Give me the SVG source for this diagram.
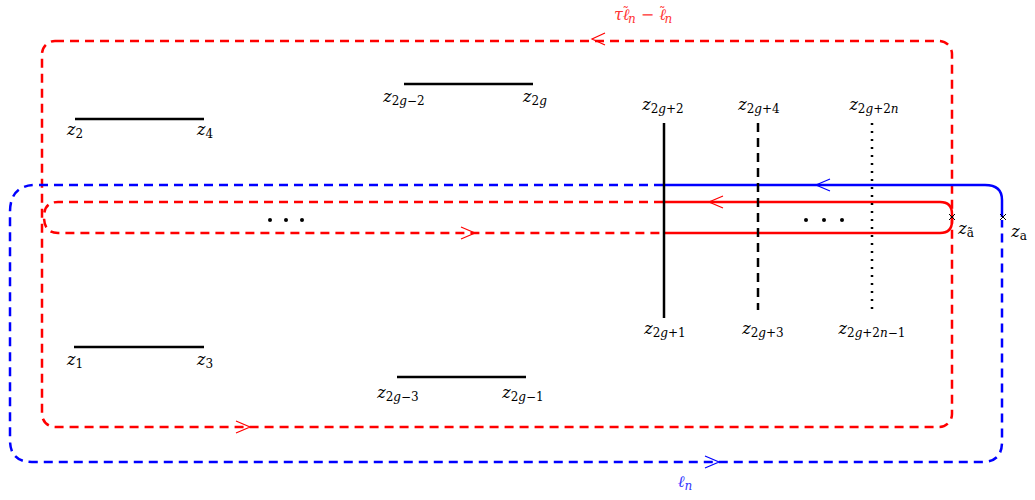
<svg xmlns="http://www.w3.org/2000/svg" width="1035" height="500" viewBox="0 0 1035 500">
<style>
.lbl{font-family:"DejaVu Serif","Liberation Serif",serif;font-size:16px;font-style:italic;fill:#000;text-anchor:middle}
.sub{font-size:12px;font-style:normal}
.it{font-style:italic}
.til{font-size:13px;font-style:normal}
.seg{stroke:#000;stroke-width:2.5;fill:none}
.rd{stroke:#f00;stroke-width:2.5;fill:none;stroke-dasharray:9 6}
.rs{stroke:#f00;stroke-width:2.5;fill:none}
.bd{stroke:#00f;stroke-width:2.5;fill:none;stroke-dasharray:9 6}
.bs{stroke:#00f;stroke-width:2.5;fill:none}
.ar{fill:none;stroke-width:1.2}
.dot{fill:#000}
</style>
<rect width="1035" height="500" fill="#fff"/>
<g id="connectors">
<rect class="rd" x="42" y="41" width="910" height="386" rx="13"/>
<path class="rd" d="M663 202 L58 202 Q44 202 44 217 Q44 233 58 233 L663 233"/>
<path class="rs" d="M663 202 L940 202 Q952 202 952 214 L952 221 Q952 233 940 233 L663 233"/>
<path class="bs" d="M1002 217 L1002 200 Q1002 185 985 185 L663 185"/>
<path class="bd" d="M663 185 L36 185 Q10 185 10 212 L10 440 Q10 462 32 462 L982 462 Q1002 462 1002 442 L1002 220"/>
<polyline class="ar" stroke="#f00" points="605,33 592,39 605,45"/>
<polyline class="ar" stroke="#f00" points="236,421 250,427 236,433"/>
<polyline class="ar" stroke="#f00" points="461,227 475,233 461,239"/>
<polyline class="ar" stroke="#f00" points="723,196 709,202 723,208"/>
<polyline class="ar" stroke="#00f" points="830,179 816,185 830,191"/>
<polyline class="ar" stroke="#00f" points="705,456 719,462 705,468"/>
</g>
<g id="cut-1"><line class="seg" x1="75" y1="119" x2="204" y2="119"/>
<text class="lbl" x="75" y="135">z<tspan class="sub" dy="3">2</tspan></text>
<text class="lbl" x="205" y="135">z<tspan class="sub" dy="3">4</tspan></text></g>
<g id="cut-2"><line class="seg" x1="404" y1="84" x2="533" y2="84"/>
<text class="lbl" x="404" y="102">z<tspan class="sub" dy="3">2<tspan class="it">g</tspan>−2</tspan></text>
<text class="lbl" x="535" y="102">z<tspan class="sub" dy="3">2<tspan class="it">g</tspan></tspan></text></g>
<g id="cut-3"><line class="seg" x1="74" y1="347" x2="204" y2="347"/>
<text class="lbl" x="75" y="365">z<tspan class="sub" dy="3">1</tspan></text>
<text class="lbl" x="205" y="365">z<tspan class="sub" dy="3">3</tspan></text></g>
<g id="cut-4"><line class="seg" x1="397" y1="377" x2="526" y2="377"/>
<text class="lbl" x="398" y="398">z<tspan class="sub" dy="3">2<tspan class="it">g</tspan>−3</tspan></text>
<text class="lbl" x="523" y="398">z<tspan class="sub" dy="3">2<tspan class="it">g</tspan>−1</tspan></text></g>
<g id="cut-5"><line class="seg" x1="664" y1="123" x2="664" y2="318"/>
<text class="lbl" x="663" y="110">z<tspan class="sub" dy="3">2<tspan class="it">g</tspan>+2</tspan></text>
<text class="lbl" x="665" y="334">z<tspan class="sub" dy="3">2<tspan class="it">g</tspan>+1</tspan></text></g>
<g id="cut-6"><line class="seg" x1="758" y1="123" x2="758" y2="310" stroke-dasharray="9 6"/>
<text class="lbl" x="759" y="110">z<tspan class="sub" dy="3">2<tspan class="it">g</tspan>+4</tspan></text>
<text class="lbl" x="763" y="334">z<tspan class="sub" dy="3">2<tspan class="it">g</tspan>+3</tspan></text></g>
<g id="cut-7"><line class="seg" x1="872" y1="123" x2="872" y2="310" stroke-width="2" stroke-dasharray="2 6"/>
<text class="lbl" x="874" y="110">z<tspan class="sub" dy="3">2<tspan class="it">g</tspan>+2<tspan class="it">n</tspan></tspan></text>
<text class="lbl" x="872" y="334">z<tspan class="sub" dy="3">2<tspan class="it">g</tspan>+2<tspan class="it">n</tspan>−1</tspan></text></g>
<g id="dots-left"><circle class="dot" cx="270" cy="220" r="2"/><circle class="dot" cx="286" cy="220" r="2"/><circle class="dot" cx="302" cy="220" r="2"/></g>
<g id="dots-right"><circle class="dot" cx="806" cy="220" r="2"/><circle class="dot" cx="824" cy="220" r="2"/><circle class="dot" cx="842" cy="220" r="2"/></g>
<g id="point-za-tilde"><path d="M949 214 L955 220 M955 214 L949 220" stroke="#000" stroke-width="1"/>
<text class="lbl" x="966" y="234">z<tspan class="sub" dy="3">ã</tspan></text></g>
<g id="point-za"><path d="M1000 214 L1006 220 M1006 214 L1000 220" stroke="#000" stroke-width="1"/>
<text class="lbl" x="1019" y="237">z<tspan class="sub" dy="3">a</tspan></text></g>
<text class="lbl" x="614" y="20" style="fill:#f33;text-anchor:start">τℓ<tspan class="til" dx="-7" dy="-4">˜</tspan><tspan class="sub it" dx="-1" dy="7">n</tspan><tspan dy="-3"> − ℓ</tspan><tspan class="til" dx="-7" dy="-4">˜</tspan><tspan class="sub it" dx="-1" dy="7">n</tspan></text>
<text class="lbl" x="685" y="487" style="fill:#33f">ℓ<tspan class="sub it" dy="3">n</tspan></text>
</svg>
